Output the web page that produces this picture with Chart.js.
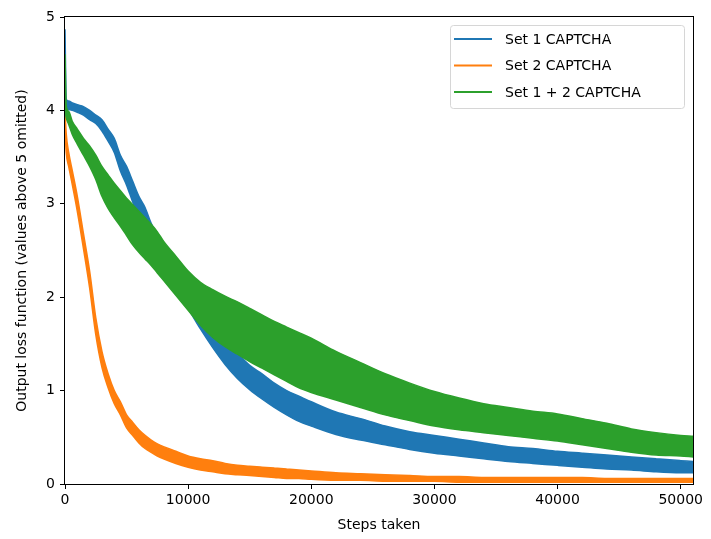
<!DOCTYPE html>
<html>
<head>
<meta charset="utf-8">
<script src="https://cdn.jsdelivr.net/npm/chart.js@4.4.1/dist/chart.umd.min.js"></script>
<style>
  html, body { margin: 0; padding: 0; background: #fff; }
  #wrap { width: 711px; height: 539px; }
</style>
</head>
<body>
<div id="wrap"><canvas id="loss" width="711" height="539"></canvas></div>
<script>
const steps = [0, 100, 300, 600, 1000, 1500, 2000, 2500, 3000, 3500,
  4000, 4500, 5000, 5500, 6000, 6500, 7000, 7500, 8000, 9000,
  10000, 11000, 12000, 13000, 14000, 15000, 16000, 17000, 18000, 19000, 20000,
  22000, 24000, 26000, 28000, 30000, 32000, 34000, 36000, 38000, 40000,
  42000, 44000, 46000, 48000, 50000, 51000];

// Set 1 CAPTCHA: lower / upper edge of the noise band
const set1Low = [4.10, 4.02, 4.01, 4.00, 3.98, 3.95, 3.90, 3.86, 3.78, 3.67,
  3.55, 3.35, 3.20, 3.02, 2.86, 2.72, 2.57, 2.44, 2.32, 2.10,
  1.88, 1.66, 1.46, 1.28, 1.13, 1.01, 0.91, 0.82, 0.74, 0.67, 0.62,
  0.53, 0.47, 0.42, 0.37, 0.33, 0.30, 0.27, 0.24, 0.22, 0.20,
  0.18, 0.16, 0.15, 0.13, 0.12, 0.12];
const set1High = [4.87, 4.12, 4.10, 4.08, 4.06, 4.04, 4.00, 3.95, 3.90, 3.80,
  3.70, 3.52, 3.40, 3.24, 3.08, 2.96, 2.79, 2.66, 2.54, 2.32,
  2.10, 1.90, 1.71, 1.54, 1.40, 1.27, 1.18, 1.08, 1.00, 0.94, 0.88,
  0.77, 0.70, 0.62, 0.56, 0.52, 0.48, 0.44, 0.40, 0.38, 0.35,
  0.33, 0.31, 0.29, 0.27, 0.25, 0.24];

// Set 2 CAPTCHA
const set2Low = [3.80, 3.55, 3.40, 3.20, 2.92, 2.52, 2.10, 1.60, 1.25, 1.03,
  0.86, 0.74, 0.60, 0.52, 0.44, 0.38, 0.34, 0.30, 0.27, 0.22,
  0.18, 0.15, 0.13, 0.11, 0.10, 0.09, 0.08, 0.07, 0.06, 0.06, 0.05,
  0.04, 0.04, 0.03, 0.03, 0.03, 0.02, 0.02, 0.02, 0.02, 0.02,
  0.02, 0.02, 0.02, 0.02, 0.02, 0.02];
const set2High = [4.00, 3.75, 3.55, 3.35, 3.08, 2.68, 2.28, 1.78, 1.42, 1.18,
  1.00, 0.88, 0.74, 0.66, 0.58, 0.52, 0.47, 0.43, 0.40, 0.35,
  0.30, 0.27, 0.25, 0.22, 0.20, 0.19, 0.18, 0.17, 0.16, 0.15, 0.14,
  0.12, 0.11, 0.10, 0.09, 0.08, 0.08, 0.07, 0.07, 0.07, 0.07,
  0.07, 0.06, 0.06, 0.06, 0.06, 0.06];

// Set 1 + 2 CAPTCHA
const set12Low = [4.00, 3.92, 3.85, 3.74, 3.64, 3.52, 3.40, 3.26, 3.08, 2.95,
  2.85, 2.76, 2.66, 2.56, 2.48, 2.41, 2.34, 2.26, 2.18, 2.02,
  1.86, 1.70, 1.57, 1.47, 1.39, 1.31, 1.24, 1.17, 1.10, 1.03, 0.98,
  0.90, 0.82, 0.74, 0.68, 0.62, 0.58, 0.55, 0.52, 0.49, 0.46,
  0.42, 0.38, 0.34, 0.31, 0.30, 0.29];
const set12High = [4.60, 4.05, 3.99, 3.88, 3.80, 3.70, 3.62, 3.52, 3.40, 3.31,
  3.22, 3.14, 3.06, 2.99, 2.92, 2.85, 2.78, 2.70, 2.60, 2.44,
  2.28, 2.16, 2.08, 2.01, 1.95, 1.88, 1.81, 1.74, 1.68, 1.62, 1.56,
  1.42, 1.30, 1.18, 1.08, 0.99, 0.92, 0.86, 0.82, 0.78, 0.75,
  0.70, 0.65, 0.59, 0.55, 0.52, 0.51];

const seriesLabels = ["Set 1 CAPTCHA", "Set 2 CAPTCHA", "Set 1 + 2 CAPTCHA"];
const seriesColors = ["#1f77b4", "#ff7f0e", "#2ca02c"];
const xTickValues = [0, 10000, 20000, 30000, 40000, 50000];

const toPoints = (vals) => steps.map((s, i) => ({ x: s, y: vals[i] }));

// each run is drawn as a filled band between its low and high edge
function band(label, color, high, low, order) {
  const common = { borderColor: color, backgroundColor: color, borderWidth: 1.5,
    pointRadius: 0, cubicInterpolationMode: "monotone", order: order };
  return [
    { ...common, label: label, data: toPoints(high), fill: "+1" },
    { ...common, label: "", data: toPoints(low), fill: false },
  ];
}

// matplotlib style frame round the plot
const frame = {
  id: "frame",
  afterDatasetsDraw(chart) {
    const { ctx, chartArea: a } = chart;
    ctx.save();
    ctx.strokeStyle = "#000";
    ctx.lineWidth = 1;
    ctx.strokeRect(a.left - 0.5, a.top - 0.5, a.right - a.left + 1, a.bottom - a.top + 1);
    ctx.restore();
  },
};

// legend box in the upper right corner
const legendBox = {
  id: "legendBox",
  afterDraw(chart) {
    const { ctx, chartArea: a } = chart;
    const w = 234, h = 83;
    const x = a.right - 9 - w, y = a.top + 8;
    ctx.save();
    ctx.beginPath();
    ctx.roundRect(x + 0.5, y + 0.5, w, h, 3);
    ctx.fillStyle = "rgba(255,255,255,0.8)";
    ctx.fill();
    ctx.strokeStyle = "#d6d6d6";
    ctx.lineWidth = 1;
    ctx.stroke();
    ctx.font = "14px 'DejaVu Sans'";
    ctx.textBaseline = "middle";
    seriesLabels.forEach((lab, i) => {
      const ry = y + 14 + i * 26.5;
      ctx.strokeStyle = seriesColors[i];
      ctx.lineWidth = 2;
      ctx.beginPath();
      ctx.moveTo(x + 4, ry);
      ctx.lineTo(x + 42, ry);
      ctx.stroke();
      ctx.fillStyle = "#000";
      ctx.fillText(lab, x + 55, ry + 1);
    });
    ctx.restore();
  },
};

Chart.defaults.font.family = "'DejaVu Sans', sans-serif";
Chart.defaults.font.size = 14;
Chart.defaults.color = "#000";

new Chart(document.getElementById("loss"), {
  type: "line",
  data: {
    datasets: [
      ...band(seriesLabels[0], seriesColors[0], set1High, set1Low, 2),
      ...band(seriesLabels[1], seriesColors[1], set2High, set2Low, 1),
      ...band(seriesLabels[2], seriesColors[2], set12High, set12Low, 0),
    ],
  },
  options: {
    responsive: false,
    devicePixelRatio: 1,
    animation: false,
    layout: { padding: { left: 0, top: 17, right: 18, bottom: 0 } },
    plugins: {
      legend: { display: false },
      tooltip: { enabled: false },
    },
    scales: {
      x: {
        type: "linear",
        min: 0,
        max: 51000,
        afterBuildTicks: (s) => {
          s.ticks = xTickValues.map((v) => ({ value: v }));
        },
        afterFit: (s) => { s.height = 55; },
        ticks: { padding: 3, maxRotation: 0, callback: (v) => String(v) },
        grid: { display: true, drawOnChartArea: false, drawTicks: true,
          tickLength: 5, tickColor: "#000", tickWidth: 1 },
        border: { display: false },
        title: { display: true, text: "Steps taken", padding: { top: 0, bottom: 5 } },
      },
      y: {
        min: 0,
        max: 5,
        ticks: { stepSize: 1, padding: 5 },
        afterFit: (s) => { s.width = 65; },
        grid: { display: true, drawOnChartArea: false, drawTicks: true,
          tickLength: 5, tickColor: "#000", tickWidth: 1 },
        border: { display: false },
        title: { display: true, text: "Output loss function (values above 5 omitted)",
          padding: { top: 14, bottom: 0 } },
      },
    },
  },
  plugins: [frame, legendBox],
});
</script>
</body>
</html>
